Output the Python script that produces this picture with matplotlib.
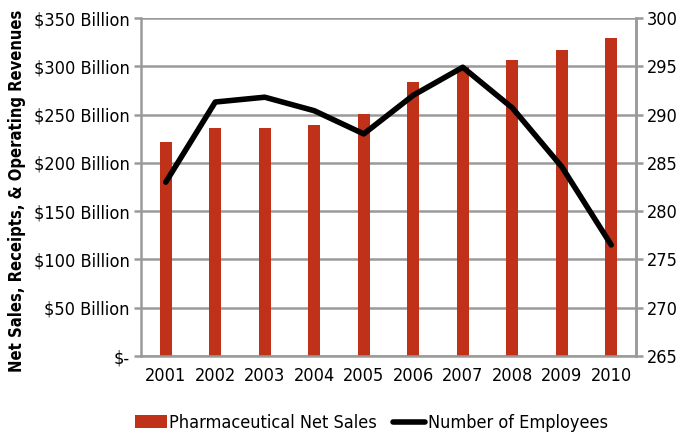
import numpy as np
import matplotlib
matplotlib.use("Agg")
import matplotlib.pyplot as plt
from matplotlib import font_manager

years = ["2001", "2002", "2003", "2004", "2005", "2006", "2007", "2008", "2009", "2010"]
net_sales = [221.5, 236, 236.5, 239, 251, 284, 299, 306.5, 317, 329]  # $ billion
employees = [283.0, 291.3, 291.8, 290.4, 288.0, 292.0, 294.9, 290.7, 284.6, 276.5]  # thousands
left_ticks = [0, 50, 100, 150, 200, 250, 300, 350]
left_labels = ["$-", "$50 Billion", "$100 Billion", "$150 Billion", "$200 Billion",
               "$250 Billion", "$300 Billion", "$350 Billion"]
right_ticks = [265, 270, 275, 280, 285, 290, 295, 300]

# pick a narrow face if one is installed
files = [f.fname for f in font_manager.fontManager.ttflist]
names = {f.name for f in font_manager.fontManager.ttflist}
if "Liberation Sans Narrow" in names:
    plt.rcParams["font.family"] = ["Liberation Sans Narrow", "DejaVu Sans"]
elif any("DejaVuSansCondensed" in f for f in files):
    plt.rcParams["font.family"] = ["DejaVu Sans"]
    plt.rcParams["font.stretch"] = "condensed"
else:
    plt.rcParams["font.family"] = ["Liberation Sans", "DejaVu Sans"]

red = "#c0311a"
grid_c = "#9a9a9a"

fig = plt.figure(figsize=(6.94, 4.33), dpi=100)
ax = fig.add_axes([0.2032, 0.1778, 0.7132, 0.7806])
x = np.arange(len(years))
ax.bar(x, net_sales, width=0.25, color=red, zorder=2, label="Pharmaceutical Net Sales")
ax.set_ylim(0, 350)
ax.set_xlim(-0.5, len(years) - 0.5)
ax.set_yticks(left_ticks)
ax.set_yticklabels(left_labels)
ax.set_xticks(x)
ax.set_xticklabels(years)
ax.yaxis.grid(True, color=grid_c, linewidth=1.8, zorder=0)
ax.set_axisbelow(True)
ax.spines["top"].set_visible(False)
for s in ["left", "right", "bottom"]:
    ax.spines[s].set_color(grid_c)
    ax.spines[s].set_linewidth(1.8)
ax.tick_params(axis="y", length=5, color=grid_c, width=1.8, labelsize=13, pad=3)
ax.tick_params(axis="x", length=0, labelsize=13, pad=8)
ax.set_ylabel("Net Sales, Receipts, & Operating Revenues", fontsize=11.9,
              fontweight="bold")
ax.yaxis.set_label_coords(-0.233, 0.49)

ax2 = ax.twinx()
ax2.plot(x, employees, color="black", linewidth=4, solid_capstyle="round",
         label="Number of Employees", zorder=3)
ax2.set_ylim(265, 300)
ax2.set_yticks(right_ticks)
ax2.tick_params(axis="y", length=5, color=grid_c, width=1.8, labelsize=13, pad=3)
for s in ["top", "left", "bottom"]:
    ax2.spines[s].set_visible(False)
ax2.spines["right"].set_color(grid_c)
ax2.spines["right"].set_linewidth(1.8)

h1, l1 = ax.get_legend_handles_labels()
h2, l2 = ax2.get_legend_handles_labels()
fig.legend(h1 + h2, l1 + l2, loc="lower center", bbox_to_anchor=(0.535, -0.035),
           ncol=2, frameon=False, fontsize=13, handlelength=1.75, handletextpad=0.15,
           columnspacing=0.9)

fig.savefig("out.png", dpi=100)
